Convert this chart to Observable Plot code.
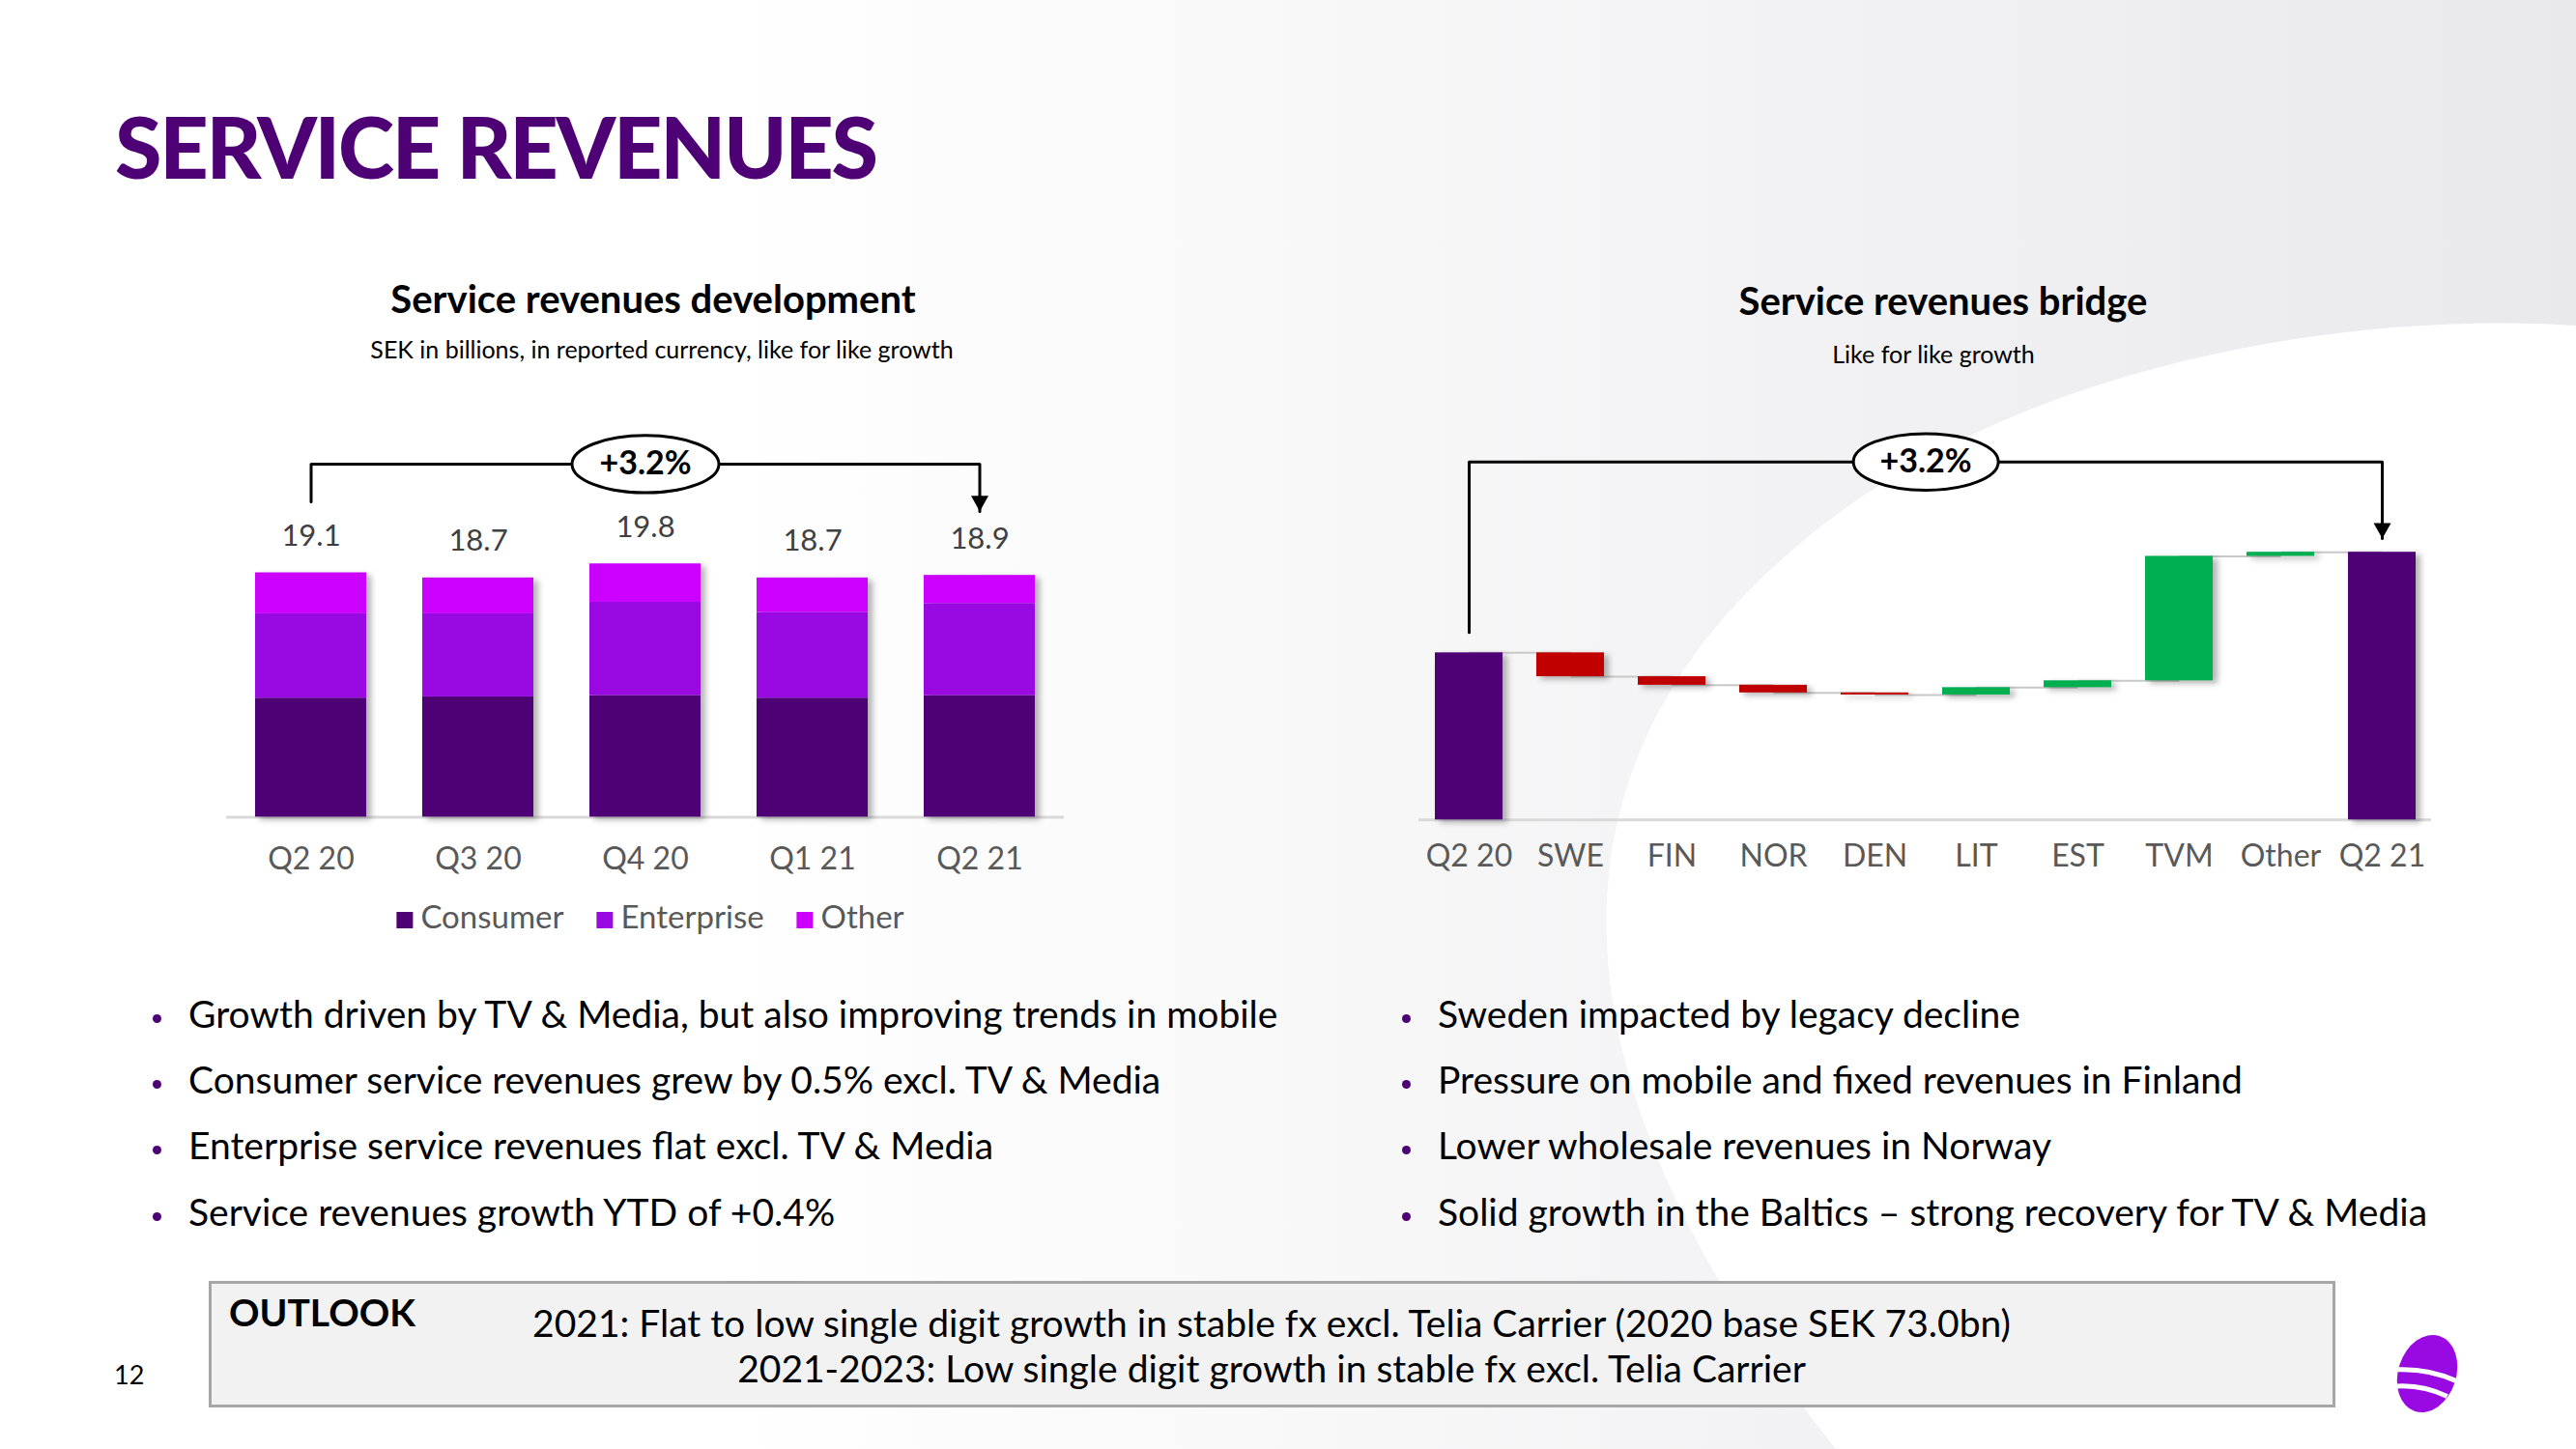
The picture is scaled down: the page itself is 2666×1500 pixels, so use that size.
<!DOCTYPE html>
<html>
<head>
<meta charset="utf-8">
<title>Service revenues</title>
<script src="https://cdn.jsdelivr.net/npm/d3@7"></script>
<script src="https://cdn.jsdelivr.net/npm/@observablehq/plot@0.6"></script>
<style>
html, body { margin:0; padding:0; }
body { width:2666px; height:1500px; position:relative; overflow:hidden; background:#fff; font-family: Lato, "Open Sans", sans-serif; color:#000; }
#bg { position:absolute; left:0; top:0; }
.t { position:absolute; line-height:1; white-space:nowrap; }
.c { transform: translateX(-50%); }
.chart { position:absolute; top:400px; }
.chart svg { overflow: visible; }
.chart g[aria-label="bar"] { filter: drop-shadow(5px 3px 3px rgba(0,0,0,0.30)); }
.bul { position:absolute; line-height:1; white-space:nowrap; font-size:39px; }
.bul .dot { position:absolute; left:-37px; top:20px; width:9px; height:9px; border-radius:50%; background:#4E0174; }
.legend { position:absolute; top:932px; left:673px; transform:translateX(-50%); font-size:33px; line-height:1; white-space:nowrap; color:#595959; }
.legend span.item { margin:0 17px; }
.legend span.sw { display:inline-block; width:17px; height:17px; margin-right:8px; vertical-align:baseline; }
.box { position:absolute; left:216px; top:1326px; width:2201px; height:131px; box-sizing:border-box; border:3px solid #a6a6a6; background:#f2f2f2; }
</style>
</head>
<body>
<svg id="bg" width="2666" height="1500">
  <defs>
    <linearGradient id="bgGrad" x1="0" y1="0" x2="1" y2="0">
      <stop offset="0.28" stop-color="#ffffff"/>
      <stop offset="1" stop-color="#e9e9ec"/>
    </linearGradient>
  </defs>
  <rect width="2666" height="1500" fill="url(#bgGrad)"/>
  <path d="M1900,1500 C1660,1200 1540,850 1843,580 C2050,390 2400,320 2666,337 L2666,1500 Z" fill="#ffffff"/>
</svg>

<div class="t" style="left:119px;top:107px;font-size:88px;font-weight:900;color:#4E0174;letter-spacing:-2.3px;">SERVICE REVENUES</div>

<div class="t c" style="left:676px;top:289px;font-size:40px;font-weight:700;">Service revenues development</div>
<div class="t c" style="left:685px;top:349px;font-size:25px;">SEK in billions, in reported currency, like for like growth</div>
<div class="t c" style="left:2011px;top:291px;font-size:40px;font-weight:700;">Service revenues bridge</div>
<div class="t c" style="left:2001px;top:354px;font-size:25px;">Like for like growth</div>

<div id="left" class="chart" style="left:0px;"></div>
<div id="right" class="chart" style="left:1400px;"></div>
<div id="legend" class="legend"></div>

<div id="bullets"></div>

<div class="box"></div>
<div class="t" style="left:237px;top:1339px;font-size:39px;font-weight:700;">OUTLOOK</div>
<div id="outlook"></div>

<div class="t" style="left:118px;top:1409px;font-size:27px;">12</div>

<svg style="position:absolute;left:2466px;top:1376px;" width="92" height="92" viewBox="0 0 92 92">
  <g transform="rotate(18 46 46)">
    <ellipse cx="46" cy="46" rx="30" ry="41" fill="#990AE3"/>
    <path d="M14,52 Q46,40 78,44" stroke="#ffffff" stroke-width="5" fill="none"/>
    <path d="M20,68 Q46,58 73,62" stroke="#ffffff" stroke-width="5" fill="none"/>
  </g>
</svg>

<script>
// ---------- data ----------
const quarters = ["Q2 20", "Q3 20", "Q4 20", "Q1 21", "Q2 21"];
const segmentNames = ["Consumer", "Enterprise", "Other"];
const consumer   = [9.3, 9.4, 9.5, 9.3, 9.5];
const enterprise = [6.6, 6.5, 7.3, 6.7, 7.2];
const other      = [3.2, 2.8, 3.0, 2.7, 2.2];
const quarterTotals = [19.1, 18.7, 19.8, 18.7, 18.9];
const developmentGrowth = "+3.2%";

const bridgeCategories = ["Q2 20", "SWE", "FIN", "NOR", "DEN", "LIT", "EST", "TVM", "Other", "Q2 21"];
const bridgeStart = 18.31;
const bridgeChanges = [-0.14, -0.05, -0.045, -0.012, 0.043, 0.04, 0.73, 0.024];
const bridgeEnd = 18.9;
const bridgeGrowth = "+3.2%";
const bridgeAxisFloor = 17.33;

const leftBullets = [
  "Growth driven by TV & Media, but also improving trends in mobile",
  "Consumer service revenues grew by 0.5% excl. TV & Media",
  "Enterprise service revenues flat excl. TV & Media",
  "Service revenues growth YTD of +0.4%"
];
const rightBullets = [
  "Sweden impacted by legacy decline",
  "Pressure on mobile and fixed revenues in Finland",
  "Lower wholesale revenues in Norway",
  "Solid growth in the Baltics \u2013 strong recovery for TV & Media"
];
const outlookLines = [
  "2021: Flat to low single digit growth in stable fx excl. Telia Carrier (2020 base SEK 73.0bn)",
  "2021-2023: Low single digit growth in stable fx excl. Telia Carrier"
];

// ---------- styles ----------
const segmentColors = ["#4E0174", "#990AE3", "#CC00FF"];
const bridgeKinds = ["total", "down", "up"];
const bridgeColors = ["#4E0174", "#C00000", "#00B050"];

// custom symbols
const ellipseSymbol = {
  draw(ctx, size) {
    const rx = Math.sqrt(size / Math.PI), ry = rx * 0.39, k = 0.5522847498;
    ctx.moveTo(rx, 0);
    ctx.bezierCurveTo(rx, ry * k, rx * k, ry, 0, ry);
    ctx.bezierCurveTo(-rx * k, ry, -rx, ry * k, -rx, 0);
    ctx.bezierCurveTo(-rx, -ry * k, -rx * k, -ry, 0, -ry);
    ctx.bezierCurveTo(rx * k, -ry, rx, -ry * k, rx, 0);
    ctx.closePath();
  }
};
const arrowSymbol = {
  draw(ctx, size) {
    const r = Math.sqrt(size / Math.PI);
    ctx.moveTo(-r, -1.8 * r);
    ctx.lineTo(r, -1.8 * r);
    ctx.lineTo(0, 0);
    ctx.closePath();
  }
};

// ---------- left chart ----------
const devRows = quarters.flatMap((q, i) => [
  {quarter: q, segment: segmentNames[0], value: consumer[i]},
  {quarter: q, segment: segmentNames[1], value: enterprise[i]},
  {quarter: q, segment: segmentNames[2], value: other[i]}
]);
const devTotals = quarters.map((q, i) => ({quarter: q, total: quarterTotals[i]}));
const devLevel = d3.max(quarterTotals) + 7.8;
const devBracket = [
  {quarter: quarters[0], y: quarterTotals[0] + 5.55},
  {quarter: quarters[0], y: devLevel},
  {quarter: quarters[quarters.length - 1], y: devLevel},
  {quarter: quarters[quarters.length - 1], y: quarterTotals[quarterTotals.length - 1] + 5.0}
];
const devArrow = [devBracket[3]];
const devBadge = [{quarter: quarters[2], y: devLevel, label: developmentGrowth}];

const leftPlot = Plot.plot({
  width: 1160, height: 530,
  marginLeft: 234, marginRight: 59, marginTop: 0, marginBottom: 84.6,
  x: {domain: quarters, paddingInner: 0.335, paddingOuter: 0.17, tickSize: 0, tickPadding: 31, label: null},
  y: {domain: [0, 33.64], axis: null},
  color: {domain: segmentNames, range: segmentColors},
  style: {background: "transparent", fontFamily: "Lato, sans-serif", fontSize: "32px", color: "#595959", overflow: "visible"},
  marks: [
    Plot.ruleY([0], {stroke: "#d9d9d9", strokeWidth: 3}),
    Plot.barY(devRows, {x: "quarter", y: "value", fill: "segment"}),
    Plot.text(devTotals, {x: "quarter", y: "total", text: d => d.total.toFixed(1), dy: -38, lineAnchor: "middle", fill: "#404040", fontSize: 31}),
    Plot.line(devBracket, {x: "quarter", y: "y", stroke: "#000", strokeWidth: 3}),
    Plot.dot(devArrow, {x: "quarter", y: "y", symbol: arrowSymbol, r: 9, fill: "#000", stroke: "none"}),
    Plot.dot(devBadge, {x: "quarter", y: "y", symbol: ellipseSymbol, r: 76, fill: "#fff", stroke: "#000", strokeWidth: 3}),
    Plot.text(devBadge, {x: "quarter", y: "y", text: "label", fontSize: 34, fontWeight: "bold", fill: "#000", lineAnchor: "middle"})
  ]
});
document.getElementById("left").appendChild(leftPlot);

// legend
document.getElementById("legend").innerHTML = segmentNames.map((s, i) =>
  `<span class="item"><span class="sw" style="background:${segmentColors[i]}"></span>${s}</span>`).join("");

// ---------- right chart ----------
const bridgeRows = [];
let running = bridgeStart;
bridgeRows.push({cat: bridgeCategories[0], y1: bridgeAxisFloor, y2: bridgeStart, kind: "total"});
bridgeChanges.forEach((d, i) => {
  bridgeRows.push({cat: bridgeCategories[i + 1], y1: running, y2: running + d, kind: d < 0 ? "down" : "up"});
  running += d;
});
bridgeRows.push({cat: bridgeCategories[bridgeCategories.length - 1], y1: bridgeAxisFloor, y2: bridgeEnd, kind: "total"});
const connectors = bridgeRows.slice(0, -1).map((r, i) => ({from: r.cat, to: bridgeRows[i + 1].cat, level: r.y2}));

const bridgeLevel = bridgeEnd + 0.53;
const bridgeBracket = [
  {cat: bridgeCategories[0], y: bridgeStart + 0.12},
  {cat: bridgeCategories[0], y: bridgeLevel},
  {cat: bridgeCategories[bridgeCategories.length - 1], y: bridgeLevel},
  {cat: bridgeCategories[bridgeCategories.length - 1], y: bridgeEnd + 0.08}
];
const bridgeArrow = [bridgeBracket[3]];
const bridgeBadge = [{cat: bridgeCategories[4], y: bridgeLevel, label: bridgeGrowth}];

const rW = 1180, rML = 68, rMR = 64, rPI = 0.335, rPO = 0.146;
const rStep = (rW - rML - rMR) / (bridgeCategories.length - rPI + 2 * rPO);

const rightPlot = Plot.plot({
  width: rW, height: 530,
  marginLeft: rML, marginRight: rMR, marginTop: 0, marginBottom: 81.7,
  x: {domain: bridgeCategories, paddingInner: rPI, paddingOuter: rPO, tickSize: 0, tickPadding: 25, label: null},
  y: {domain: [bridgeAxisFloor, 19.87], axis: null},
  color: {domain: bridgeKinds, range: bridgeColors},
  style: {background: "transparent", fontFamily: "Lato, sans-serif", fontSize: "32px", color: "#595959", overflow: "visible"},
  marks: [
    Plot.ruleY([bridgeAxisFloor], {stroke: "#d9d9d9", strokeWidth: 3}),
    Plot.link(connectors, {x1: "from", x2: "to", y1: "level", y2: "level", stroke: "#c8c8c8", strokeWidth: 2}),
    Plot.barY(bridgeRows, {x: "cat", y1: "y1", y2: "y2", fill: "kind"}),
    Plot.line(bridgeBracket, {x: "cat", y: "y", stroke: "#000", strokeWidth: 3}),
    Plot.dot(bridgeArrow, {x: "cat", y: "y", symbol: arrowSymbol, r: 9, fill: "#000", stroke: "none"}),
    Plot.dot(bridgeBadge, {x: "cat", y: "y", dx: rStep / 2, symbol: ellipseSymbol, r: 75, fill: "#fff", stroke: "#000", strokeWidth: 3}),
    Plot.text(bridgeBadge, {x: "cat", y: "y", dx: rStep / 2, text: "label", fontSize: 34, fontWeight: "bold", fill: "#000", lineAnchor: "middle"})
  ]
});
document.getElementById("right").appendChild(rightPlot);

// ---------- bullets & outlook ----------
const bulletTops = [1030, 1098, 1166, 1235];
const bHtml = [];
leftBullets.forEach((s, i) => bHtml.push(`<div class="bul" style="left:195px;top:${bulletTops[i]}px;"><span class="dot"></span>${s}</div>`));
rightBullets.forEach((s, i) => bHtml.push(`<div class="bul" style="left:1488px;top:${bulletTops[i]}px;"><span class="dot"></span>${s}</div>`));
document.getElementById("bullets").innerHTML = bHtml.join("");

const outlookTops = [1350, 1397];
document.getElementById("outlook").innerHTML = outlookLines.map((s, i) =>
  `<div class="t c" style="left:1316px;top:${outlookTops[i]}px;font-size:39px;">${s}</div>`).join("");
</script>
</body>
</html>
